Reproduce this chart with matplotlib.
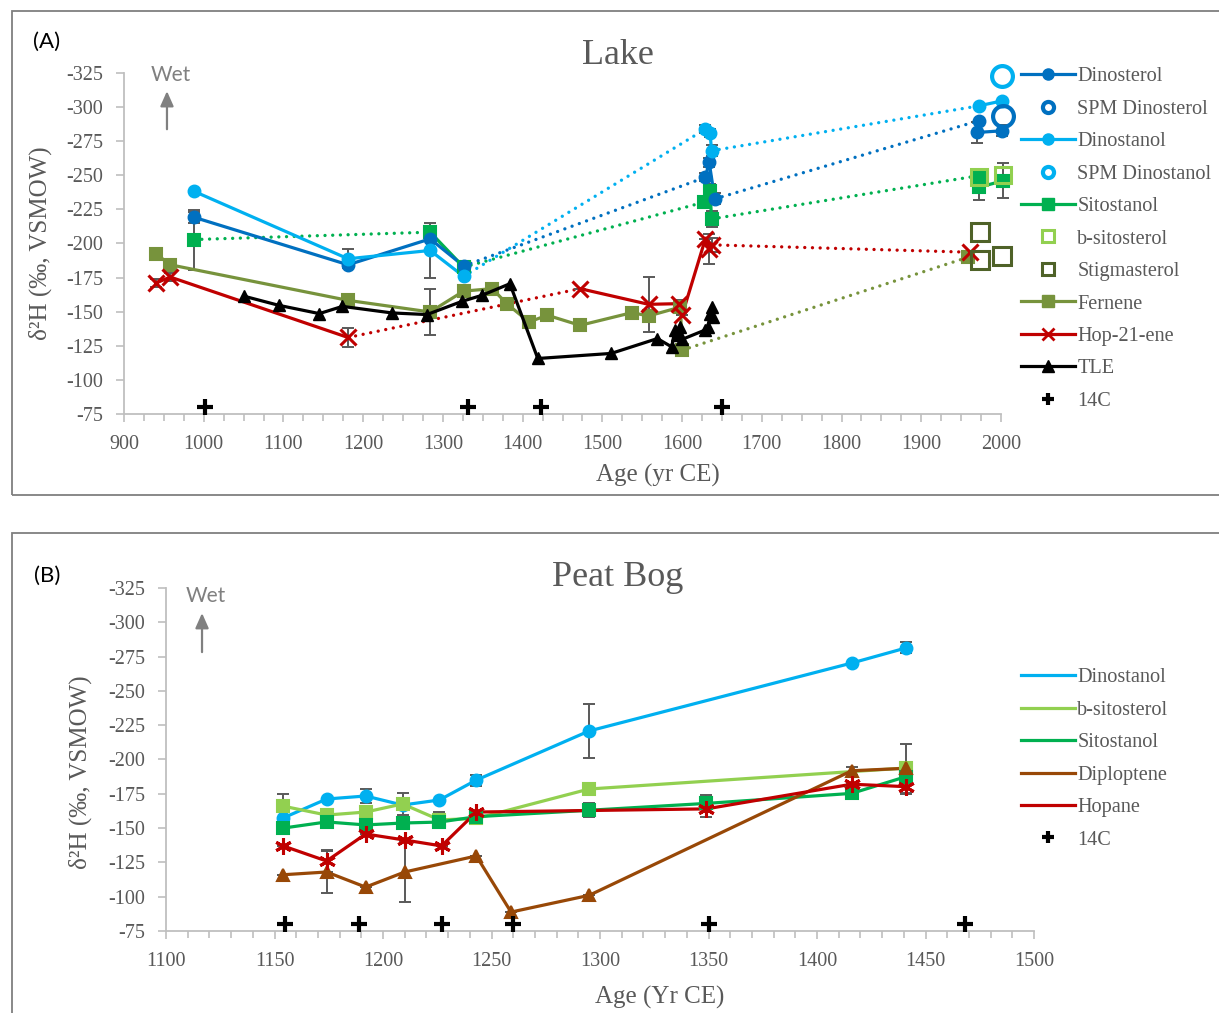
import matplotlib
matplotlib.use("Agg")
import matplotlib.pyplot as plt
from matplotlib.lines import Line2D
from matplotlib.patches import Rectangle
from matplotlib.ticker import MultipleLocator

plt.rcParams['axes.unicode_minus'] = False

# ---------------- Panel A: Lake ----------------
dinosterol_age = [988, 1181, 1284, 1326, 1629, 1634, 1641, 1972, 1970, 2001]
dinosterol_d2h = [-219.2, -184.4, -203.4, -183.5, -248.5, -259.4, -232.7, -290, -281.4, -282.6]
dinosterol_err = [4, 0, 0, 0, 3, 3, 4, 0, 8, 4]
dinosterol_gaps = [4, 7]

dinostanol_age = [988, 1181, 1284, 1326, 1629, 1635, 1637, 1972, 2001]
dinostanol_d2h = [-238.2, -188.8, -194.9, -175.9, -283.8, -281.3, -268, -300.9, -304.5]
dinostanol_err = [0, 7, 20, 0, 3, 3, 4, 0, 0]
dinostanol_gaps = [4, 7]

sitostanol_age = [988, 1284, 1326, 1627, 1635, 1637, 1972, 1972, 2003]
sitostanol_d2h = [-202.9, -208.3, -182.7, -230.2, -238.7, -218, -249.7, -241.2, -246]
sitostanol_err = [22, 0, 3, 0, 5, 6, 0, 9, 13]
sitostanol_gaps = [1, 3, 6]

fernene_age = [940, 958, 1181, 1284, 1326, 1362, 1380, 1408, 1431, 1472, 1537, 1558, 1598, 1600, 1959]
fernene_d2h = [-192.5, -184.4, -158.3, -149.8, -165.1, -166.9, -155.9, -142.5, -147.4, -140,
               -149.3, -146.9, -153.4, -121.8, -190]
fernene_err = [0, 3, 0, 17, 0, 0, 0, 0, 0, 0, 0, 0, 0, 0, 0]
fernene_gaps = [14]

hopene_age = [940, 958, 1181, 1472, 1558, 1596, 1600, 1629, 1634, 1638, 1961]
hopene_d2h = [-171, -175.4, -131.1, -166.9, -155.4, -155.9, -147.4, -203, -196, -199, -193.6]
hopene_err = [3, 3, 7, 0, 20, 3, 0, 0, 11, 5, 0]
hopene_gaps = [3, 10]

tle_age = [1051, 1094, 1145, 1174, 1236, 1280, 1324, 1349, 1384, 1419, 1511, 1569, 1587,
           1591, 1593, 1598, 1600, 1629, 1633, 1635, 1637, 1639]
tle_d2h = [-161.3, -154.7, -148.6, -153.9, -149.1, -147.9, -157.6, -162, -170.5, -115.7, -119.4,
           -130.3, -124.2, -136.6, -133, -139, -129.7, -136.6, -139, -148.6, -153.4, -146]

spm_dinosterol_age = [2002]
spm_dinosterol_d2h = [-293.6]
spm_dinostanol_age = [2001]
spm_dinostanol_d2h = [-322.8]
bsito_lake_age = [1973, 2003]
bsito_lake_d2h = [-248.5, -250]
stigmasterol_age = [1974, 2001, 1974]
stigmasterol_d2h = [-208.3, -191.2, -187.6]

c14_lake_age = [1001, 1331, 1423, 1650]

# ---------------- Panel B: Peat Bog ----------------
bog_dinostanol_age = [1154, 1174, 1192, 1209, 1226, 1243, 1295, 1416, 1441]
bog_dinostanol_d2h = [-157.4, -171.2, -173.4, -166.8, -170.5, -185, -220.8, -270.3, -281.3]
bog_dinostanol_err = [0, 0, 5, 0, 0, 4, 20, 0, 4]

bog_bsito_age = [1154, 1174, 1192, 1209, 1226, 1243, 1295, 1441]
bog_bsito_d2h = [-166, -159.5, -161.7, -167.6, -156, -157, -178.5, -193.8]
bog_bsito_err = [9, 0, 4, 8, 6, 0, 3, 0]

bog_sitostanol_age = [1154, 1174, 1192, 1209, 1226, 1243, 1295, 1349, 1416, 1441]
bog_sitostanol_d2h = [-150, -154.5, -152.3, -153.7, -154.4, -158.3, -163, -168, -175.3, -187.5]
bog_sitostanol_err = [0, 0, 0, 0, 4, 4, 5, 6, 0, 0]

diploptene_age = [1154, 1174, 1192, 1210, 1243, 1259, 1295, 1416, 1441]
diploptene_d2h = [-116, -118, -107, -118, -129.7, -88.8, -101, -191.8, -193.6]
diploptene_err = [0, 15, 0, 22, 0, 0, 0, 3, 18]

hopane_age = [1154, 1174, 1192, 1210, 1227, 1243, 1349, 1416, 1441]
hopane_d2h = [-137, -126, -145.7, -141.3, -137, -161.7, -164, -182, -180.2]
hopane_err = [0, 8, 0, 0, 0, 0, 6, 0, 5]

c14_bog_age = [1155, 1189, 1227, 1260, 1350, 1468]

y_ticks = list(range(-325, -74, 25))

SERIF = 'Liberation Serif'
SANS = 'Lato'
GREY_TXT = '#595959'
AXIS_GREY = '#BFBFBF'
ERR_GREY = '#595959'

C_DINOSTEROL = '#0070C0'
C_DINOSTANOL = '#00B0F0'
C_SITOSTANOL = '#00B050'
C_BSITO = '#92D050'
C_STIGMA = '#4F6228'
C_FERNENE = '#77933C'
C_HOPENE = '#C00000'
C_DIPLOPTENE = '#984807'

DOT = (0, (0.01, 2.3))


def style_axis(ax, xmin, xmax, xmajor, xminor):
    ax.set_xlim(xmin, xmax)
    ax.set_ylim(-75, -325)
    ax.set_yticks(y_ticks)
    ax.xaxis.set_major_locator(MultipleLocator(xmajor))
    ax.xaxis.set_minor_locator(MultipleLocator(xminor))
    for s in ['top', 'right']:
        ax.spines[s].set_visible(False)
    for s in ['left', 'bottom']:
        ax.spines[s].set_color(AXIS_GREY)
        ax.spines[s].set_linewidth(1.3)
    ax.tick_params(axis='both', which='both', direction='out', color=AXIS_GREY,
                   width=1.2, labelcolor=GREY_TXT, labelsize=14.5)
    ax.tick_params(axis='both', which='major', length=6)
    ax.tick_params(axis='y', which='major', pad=9)
    ax.tick_params(axis='x', which='major', pad=9)
    ax.tick_params(axis='x', which='minor', length=5)
    for lab in ax.get_xticklabels() + ax.get_yticklabels():
        lab.set_fontfamily(SERIF)
    ax.set_facecolor('none')


def draw_series(ax, age, d2h, err, gaps, color, marker, ms, mew=1.5):
    bounds = [0] + list(gaps) + [len(age)]
    runs = [(bounds[i], bounds[i + 1]) for i in range(len(bounds) - 1)]
    for i, (a, b) in enumerate(runs):
        ax.plot(age[a:b], d2h[a:b], color=color, lw=2.3, zorder=3, clip_on=False)
        if i > 0:
            p = runs[i - 1][1] - 1
            ax.plot([age[p], age[a]], [d2h[p], d2h[a]], color=color, lw=2.4,
                    linestyle=DOT, dash_capstyle='round', zorder=2, clip_on=False)
    ax.errorbar(age, d2h, yerr=err, fmt='none', ecolor=ERR_GREY, elinewidth=1.4,
                capsize=4, capthick=1.4, zorder=2.5, clip_on=False)
    ax.plot(age, d2h, linestyle='none', marker=marker, ms=ms, color=color,
            mec=color, mew=mew, zorder=4, clip_on=False)


def wet_arrow(ax, x, y0, y1, ty):
    ax.annotate('', xy=(x, y1), xytext=(x, y0), xycoords='axes fraction',
                arrowprops=dict(arrowstyle='-|>,head_length=0.9,head_width=0.4',
                                color='#808080', lw=1.6))
    ax.text(x + 0.004, ty, 'Wet', transform=ax.transAxes, ha='center', va='center',
            fontsize=15, color='#808080', family=SANS)


def add_legend(handles, labels, top_px):
    leg = fig.legend(handles, labels, loc='upper left',
                     bbox_to_anchor=(1021 / 1219, 1 - top_px / 1013),
                     frameon=False, borderpad=0, borderaxespad=0, handlelength=2.65,
                     handletextpad=0.12, labelspacing=0.655,
                     prop={'family': SERIF, 'size': 14.6})
    for t in leg.get_texts():
        t.set_color(GREY_TXT)
    return leg


fig = plt.figure(figsize=(12.19, 10.13), dpi=100)

# panel frames
for y0, h in [(1 - 495 / 1013, (495 - 11) / 1013), (-0.01, 1 - 533 / 1013 + 0.01)]:
    fig.patches.append(Rectangle((12 / 1219, y0), 1.1, h, transform=fig.transFigure,
                                 fill=False, edgecolor='#7F7F7F', lw=1.3))

# ---------- Panel A ----------
axA = fig.add_axes([124 / 1219, 1 - 414 / 1013, 877 / 1219, 341 / 1013])
style_axis(axA, 900, 2000, 100, 25)

draw_series(axA, sitostanol_age, sitostanol_d2h, sitostanol_err, sitostanol_gaps,
            C_SITOSTANOL, 's', 8.5)
draw_series(axA, dinosterol_age, dinosterol_d2h, dinosterol_err, dinosterol_gaps,
            C_DINOSTEROL, 'o', 8.5)
draw_series(axA, dinostanol_age, dinostanol_d2h, dinostanol_err, dinostanol_gaps,
            C_DINOSTANOL, 'o', 8.5)
draw_series(axA, fernene_age, fernene_d2h, fernene_err, fernene_gaps,
            C_FERNENE, 's', 8.5)
axA.plot(tle_age, tle_d2h, color='black', lw=2.3, marker='^', ms=8, zorder=4)
draw_series(axA, hopene_age, hopene_d2h, hopene_err, hopene_gaps,
            C_HOPENE, 'x', 11, mew=2.2)

axA.plot(spm_dinosterol_age, spm_dinosterol_d2h, linestyle='none', marker='o', ms=15,
         mfc='none', mec=C_DINOSTEROL, mew=3, zorder=5, clip_on=False)
axA.plot(spm_dinostanol_age, spm_dinostanol_d2h, linestyle='none', marker='o', ms=15,
         mfc='none', mec=C_DINOSTANOL, mew=3, zorder=5, clip_on=False)
axA.plot(bsito_lake_age, bsito_lake_d2h, linestyle='none', marker='s', ms=11,
         mfc='none', mec=C_BSITO, mew=2.2, zorder=5, clip_on=False)
axA.plot(stigmasterol_age, stigmasterol_d2h, linestyle='none', marker='s', ms=13,
         mfc='none', mec=C_STIGMA, mew=2.2, zorder=5, clip_on=False)
axA.plot(c14_lake_age, [-80] * len(c14_lake_age), linestyle='none', marker='+',
         ms=11, mew=3, color='black', zorder=5, clip_on=False)

wet_arrow(axA, 0.049, 0.827, 0.955, 0.995)

handlesA = [
    Line2D([], [], color=C_DINOSTEROL, lw=2.3, marker='o', ms=8),
    Line2D([], [], color=C_DINOSTEROL, ls='none', marker='o', ms=8, mfc='none', mew=3),
    Line2D([], [], color=C_DINOSTANOL, lw=2.3, marker='o', ms=8),
    Line2D([], [], color=C_DINOSTANOL, ls='none', marker='o', ms=8, mfc='none', mew=3),
    Line2D([], [], color=C_SITOSTANOL, lw=2.3, marker='s', ms=8),
    Line2D([], [], color=C_BSITO, ls='none', marker='s', ms=8, mfc='none', mew=2.2),
    Line2D([], [], color=C_STIGMA, ls='none', marker='s', ms=8, mfc='none', mew=2.2),
    Line2D([], [], color=C_FERNENE, lw=2.3, marker='s', ms=8),
    Line2D([], [], color=C_HOPENE, lw=2.3, marker='x', ms=8, mew=2),
    Line2D([], [], color='black', lw=2.3, marker='^', ms=8),
    Line2D([], [], color='black', ls='none', marker='+', ms=8, mew=3),
]
labelsA = ['Dinosterol', 'SPM Dinosterol', 'Dinostanol', 'SPM Dinostanol', 'Sitostanol',
           'b-sitosterol', 'Stigmasterol', 'Fernene', 'Hop-21-ene', 'TLE', '14C']
add_legend(handlesA, labelsA, 67)

fig.text(618 / 1219, 1 - 55 / 1013, 'Lake', ha='center', va='center', fontsize=26,
         color=GREY_TXT, family=SERIF)
fig.text(658 / 1219, 1 - 475 / 1013, 'Age (yr CE)', ha='center', va='center', fontsize=18,
         color=GREY_TXT, family=SERIF)
fig.text(40 / 1219, 1 - 243 / 1013, 'δ²H (‰, VSMOW)', ha='center', va='center', fontsize=18,
         color=GREY_TXT, family=SERIF, rotation=90)
fig.text(47 / 1219, 1 - 42 / 1013, '(A)', ha='center', va='center', fontsize=16,
         color='black', family=SANS)

# ---------- Panel B ----------
axB = fig.add_axes([166 / 1219, 1 - 931 / 1013, 868 / 1219, 343 / 1013])
style_axis(axB, 1100, 1500, 50, 10)

draw_series(axB, bog_dinostanol_age, bog_dinostanol_d2h, bog_dinostanol_err, [],
            C_DINOSTANOL, 'o', 8.5)
draw_series(axB, bog_bsito_age, bog_bsito_d2h, bog_bsito_err, [], C_BSITO, 's', 8.5)
draw_series(axB, bog_sitostanol_age, bog_sitostanol_d2h, bog_sitostanol_err, [],
            C_SITOSTANOL, 's', 8.5)
draw_series(axB, diploptene_age, diploptene_d2h, diploptene_err, [], C_DIPLOPTENE, '^', 8)
draw_series(axB, hopane_age, hopane_d2h, hopane_err, [], C_HOPENE, (6, 2, 0), 12, mew=2.2)
axB.plot(c14_bog_age, [-80] * len(c14_bog_age), linestyle='none', marker='+',
         ms=11, mew=3, color='black', zorder=5, clip_on=False)

wet_arrow(axB, 0.0415, 0.805, 0.935, 0.977)

handlesB = [
    Line2D([], [], color=C_DINOSTANOL, lw=2.3),
    Line2D([], [], color=C_BSITO, lw=2.3),
    Line2D([], [], color=C_SITOSTANOL, lw=2.3),
    Line2D([], [], color=C_DIPLOPTENE, lw=2.3),
    Line2D([], [], color=C_HOPENE, lw=2.3),
    Line2D([], [], color='black', ls='none', marker='+', ms=8, mew=3),
]
labelsB = ['Dinostanol', 'b-sitosterol', 'Sitostanol', 'Diploptene', 'Hopane', '14C']
add_legend(handlesB, labelsB, 668)

fig.text(618 / 1219, 1 - 578 / 1013, 'Peat Bog', ha='center', va='center', fontsize=26,
         color=GREY_TXT, family=SERIF)
fig.text(660 / 1219, 1 - 997 / 1013, 'Age (Yr CE)', ha='center', va='center', fontsize=18,
         color=GREY_TXT, family=SERIF)
fig.text(80 / 1219, 1 - 772 / 1013, 'δ²H (‰, VSMOW)', ha='center', va='center', fontsize=18,
         color=GREY_TXT, family=SERIF, rotation=90)
fig.text(47 / 1219, 1 - 576 / 1013, '(B)', ha='center', va='center', fontsize=16,
         color='black', family=SANS)

fig.savefig('out.png', dpi=100, facecolor='white')
